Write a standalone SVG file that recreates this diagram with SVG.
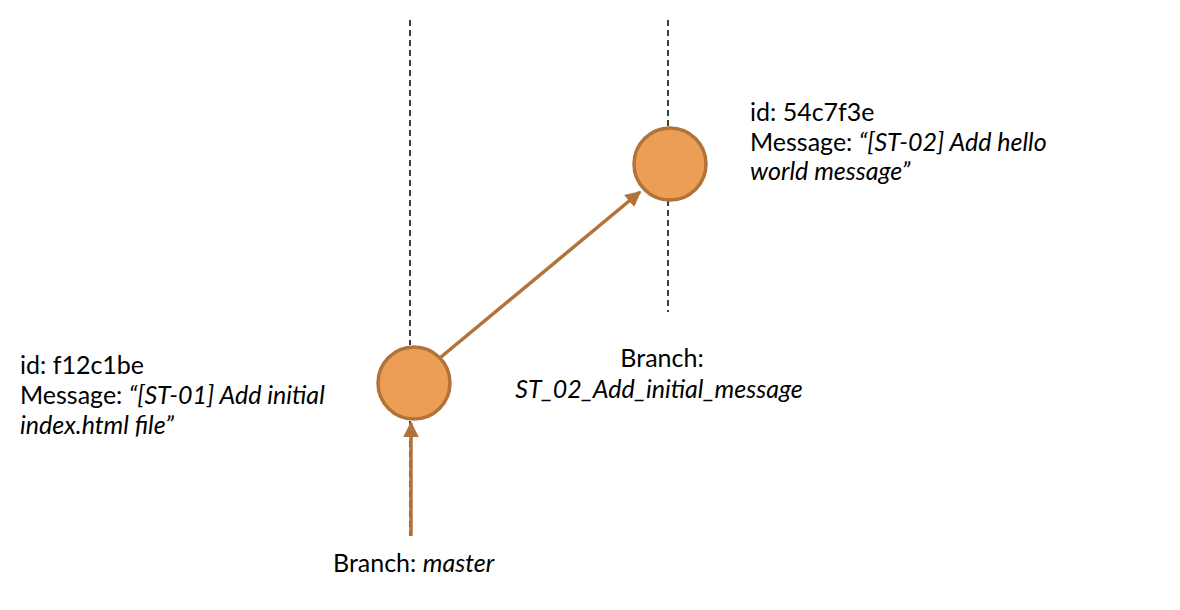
<svg xmlns="http://www.w3.org/2000/svg" width="1180" height="610" viewBox="0 0 1180 610">
<style>
.t{font-family:Lato,"Open Sans","Liberation Sans",sans-serif;font-size:25px;fill:#000}
.i{font-style:italic}
.dash{stroke:#000;stroke-width:1.5;stroke-dasharray:6 4;fill:none}
.commit{fill:#EC9E54;stroke:#B2733B;stroke-width:3.5}
.arrow{stroke:#B2733B;stroke-width:3.5;fill:none}
</style>
<defs>
<marker id="ah" viewBox="0 0 10 10" refX="9" refY="5" markerWidth="4.5" markerHeight="4.5" orient="auto" markerUnits="strokeWidth">
<path d="M0,0 L10,5 L0,10 Z" fill="#B2733B"/>
</marker>
</defs>
<g id="branch-lines">
<line class="dash" x1="410" y1="20" x2="410" y2="345"/>
<line class="dash" x1="410" y1="421" x2="410" y2="536"/>
<line class="dash" x1="668" y1="20" x2="668" y2="312"/>
</g>
<g id="connectors">
<line class="arrow" x1="411" y1="536" x2="411" y2="423" marker-end="url(#ah)"/>
<line class="arrow" x1="441" y1="357" x2="640" y2="192" marker-end="url(#ah)"/>
</g>
<g id="commit-f12c1be">
<circle class="commit" cx="414" cy="383" r="36"/>
<text class="t" x="20" y="374">id: f12c1be</text>
<text class="t" x="20" y="404">Message: <tspan class="i">“[ST-01] Add initial</tspan></text>
<text class="t i" x="20" y="434">index.html file”</text>
</g>
<g id="commit-54c7f3e">
<circle class="commit" cx="670" cy="164" r="36"/>
<text class="t" x="750" y="121">id: 54c7f3e</text>
<text class="t" x="750" y="151">Message: <tspan class="i">“[ST-02] Add hello</tspan></text>
<text class="t i" x="750" y="180">world message”</text>
</g>
<g id="branch-st02-label">
<text class="t" x="662" y="367" text-anchor="middle">Branch:</text>
<text class="t i" x="659" y="398" text-anchor="middle">ST_02_Add_initial_message</text>
</g>
<g id="branch-master-label">
<text class="t" x="333" y="572">Branch: <tspan class="i">master</tspan></text>
</g>
</svg>
